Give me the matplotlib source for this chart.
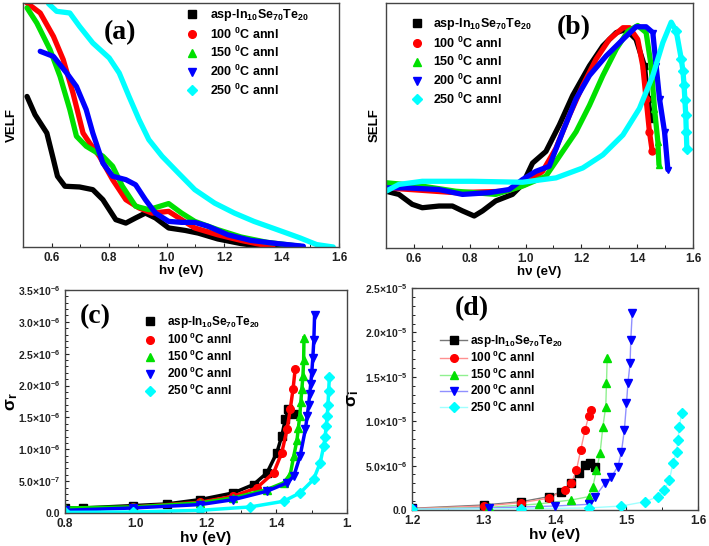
import matplotlib
matplotlib.use("Agg")
import matplotlib.pyplot as plt
from matplotlib.lines import Line2D
import numpy as np

plt.rcParams['font.family'] = ['Liberation Sans', 'DejaVu Sans']
plt.rcParams['font.weight'] = 'bold'
plt.rcParams['mathtext.fontset'] = 'custom'
plt.rcParams['mathtext.rm'] = 'Liberation Sans:bold'
plt.rcParams['mathtext.bf'] = 'Liberation Sans:bold'
plt.rcParams['mathtext.it'] = 'Liberation Sans:bold'

labels = ['asp-In$_{10}$Se$_{70}$Te$_{20}$', '100 $^{0}$C annl', '150 $^{0}$C annl',
          '200 $^{0}$C annl', '250 $^{0}$C annl']
colors = ['#000000', '#ff0000', '#00e000', '#0000ff', '#00ffff']
markers = ['s', 'o', '^', 'v', 'D']

# ---------- (a) VELF ----------
a_x0 = [0.514, 0.542, 0.583, 0.606, 0.62, 0.646, 0.697, 0.743, 0.778, 0.823, 0.858, 0.892, 0.926, 0.961, 1.007, 1.064, 1.11, 1.178, 1.259, 1.327, 1.40]
a_y0 = [0.617, 0.542, 0.467, 0.358, 0.29, 0.249, 0.246, 0.235, 0.194, 0.112, 0.098, 0.119, 0.139, 0.119, 0.078, 0.068, 0.057, 0.033, 0.014, 0.003, 0.0]
a_x1 = [0.514, 0.56, 0.606, 0.64, 0.674, 0.709, 0.732, 0.766, 0.812, 0.858, 0.904, 0.949, 1.007, 1.052, 1.098, 1.178, 1.259, 1.35, 1.37]
a_y1 = [1.0, 0.959, 0.863, 0.768, 0.631, 0.467, 0.426, 0.372, 0.276, 0.194, 0.16, 0.139, 0.146, 0.112, 0.078, 0.05, 0.027, 0.005, 0.0]
a_x2 = [0.514, 0.548, 0.594, 0.629, 0.663, 0.686, 0.72, 0.778, 0.812, 0.846, 0.892, 0.938, 1.007, 1.052, 1.098, 1.178, 1.259, 1.35, 1.465]
a_y2 = [0.98, 0.918, 0.809, 0.699, 0.563, 0.454, 0.413, 0.372, 0.331, 0.249, 0.167, 0.153, 0.178, 0.139, 0.105, 0.071, 0.041, 0.019, 0.003]
a_x3 = [0.56, 0.606, 0.652, 0.686, 0.72, 0.743, 0.778, 0.812, 0.858, 0.892, 0.926, 0.961, 1.007, 1.052, 1.098, 1.144, 1.213, 1.293, 1.385, 1.476]
a_y3 = [0.802, 0.781, 0.713, 0.658, 0.563, 0.467, 0.344, 0.29, 0.276, 0.255, 0.194, 0.139, 0.105, 0.101, 0.101, 0.085, 0.05, 0.027, 0.014, 0.003]
a_x4 = [0.589, 0.617, 0.663, 0.697, 0.743, 0.8, 0.835, 0.869, 0.904, 0.938, 0.984, 1.041, 1.098, 1.167, 1.236, 1.304, 1.385, 1.465, 1.522, 1.58]
a_y4 = [0.997, 0.966, 0.959, 0.904, 0.836, 0.775, 0.713, 0.617, 0.522, 0.44, 0.372, 0.303, 0.235, 0.18, 0.139, 0.105, 0.071, 0.037, 0.01, 0.0]

# ---------- (b) SELF ----------
b_x0 = [0.5, 0.546, 0.594, 0.63, 0.69, 0.738, 0.774, 0.816, 0.846, 0.893, 0.953, 0.989, 1.025, 1.073, 1.121, 1.169, 1.229, 1.277, 1.325, 1.36, 1.396, 1.426, 1.438, 1.45]
b_y0 = [0.224, 0.211, 0.17, 0.156, 0.163, 0.163, 0.143, 0.122, 0.143, 0.184, 0.211, 0.252, 0.34, 0.388, 0.497, 0.619, 0.741, 0.823, 0.878, 0.891, 0.85, 0.741, 0.605, 0.52]
b_x1 = [0.5, 0.75, 0.93, 1.0, 1.061, 1.109, 1.157, 1.205, 1.253, 1.3, 1.349, 1.373, 1.402, 1.42, 1.432, 1.444, 1.454]
b_y1 = [0.238, 0.218, 0.224, 0.252, 0.306, 0.401, 0.537, 0.66, 0.769, 0.85, 0.898, 0.898, 0.85, 0.741, 0.605, 0.469, 0.388]
b_x2 = [0.5, 0.63, 0.75, 0.893, 0.989, 1.073, 1.133, 1.181, 1.229, 1.277, 1.325, 1.367, 1.402, 1.432, 1.45, 1.462, 1.474, 1.478]
b_y2 = [0.259, 0.245, 0.224, 0.211, 0.245, 0.286, 0.388, 0.469, 0.578, 0.701, 0.81, 0.884, 0.907, 0.878, 0.741, 0.565, 0.429, 0.333]
b_x3 = [0.5, 0.57, 0.69, 0.774, 0.869, 0.941, 0.989, 1.037, 1.085, 1.133, 1.181, 1.229, 1.289, 1.349, 1.396, 1.432, 1.456, 1.468, 1.48, 1.498, 1.51]
b_y3 = [0.238, 0.238, 0.231, 0.211, 0.218, 0.231, 0.272, 0.306, 0.327, 0.469, 0.605, 0.701, 0.782, 0.85, 0.902, 0.902, 0.878, 0.741, 0.605, 0.469, 0.313]
b_x4 = [0.5, 0.546, 0.63, 0.81, 0.989, 1.109, 1.205, 1.277, 1.349, 1.408, 1.456, 1.492, 1.522, 1.54, 1.558, 1.564, 1.568, 1.571, 1.574, 1.576, 1.578]
b_y4 = [0.224, 0.252, 0.265, 0.265, 0.261, 0.279, 0.32, 0.374, 0.456, 0.565, 0.701, 0.837, 0.921, 0.884, 0.769, 0.72, 0.66, 0.6, 0.54, 0.47, 0.40]

# ---------- (c) sigma_r (units 1e-6) ----------
c_x0 = [0.8, 0.852, 0.994, 1.089, 1.183, 1.278, 1.335, 1.373, 1.401, 1.415, 1.425, 1.434, 1.45]
c_y0 = [0.079, 0.08, 0.116, 0.142, 0.21, 0.316, 0.447, 0.63, 0.947, 1.21, 1.47, 1.63, 1.55]
c_x1 = [0.8, 0.994, 1.183, 1.278, 1.344, 1.392, 1.415, 1.43, 1.439, 1.447, 1.453]
c_y1 = [0.042, 0.095, 0.168, 0.263, 0.395, 0.632, 0.947, 1.316, 1.63, 1.947, 2.26]
c_x2 = [0.8, 0.994, 1.183, 1.278, 1.373, 1.42, 1.439, 1.449, 1.458, 1.462, 1.466, 1.469, 1.472, 1.475, 1.477, 1.478]
c_y2 = [0.079, 0.095, 0.158, 0.237, 0.368, 0.474, 0.605, 0.895, 1.14, 1.33, 1.53, 1.74, 1.95, 2.15, 2.4, 2.75]
c_x3 = [0.8, 0.994, 1.183, 1.278, 1.373, 1.43, 1.449, 1.467, 1.482, 1.487, 1.491, 1.494, 1.497, 1.5, 1.503, 1.506, 1.508]
c_y3 = [0.042, 0.079, 0.132, 0.21, 0.342, 0.474, 0.579, 0.895, 1.316, 1.52, 1.69, 1.86, 2.02, 2.2, 2.43, 2.72, 3.1]
c_x4 = [0.8, 0.994, 1.183, 1.325, 1.42, 1.467, 1.505, 1.524, 1.534, 1.538, 1.541, 1.544, 1.546, 1.548, 1.55]
c_y4 = [0.01, 0.016, 0.042, 0.095, 0.184, 0.316, 0.526, 0.789, 1.05, 1.2, 1.368, 1.53, 1.7, 1.92, 2.14]

# ---------- (d) sigma_i (units 1e-5) ----------
d_x0 = [1.2, 1.3, 1.353, 1.391, 1.409, 1.423, 1.433, 1.442, 1.449, 1.456]
d_y0 = [0.019, 0.056, 0.094, 0.15, 0.207, 0.3, 0.414, 0.508, 0.534, 0.489]
d_x1 = [1.2, 1.3, 1.353, 1.391, 1.414, 1.423, 1.43, 1.436, 1.442, 1.447, 1.451]
d_y1 = [0.015, 0.045, 0.083, 0.132, 0.226, 0.3, 0.451, 0.677, 0.902, 1.053, 1.128]
d_x2 = [1.2, 1.307, 1.377, 1.423, 1.447, 1.453, 1.458, 1.463, 1.467, 1.471, 1.472, 1.473]
d_y2 = [0.011, 0.03, 0.068, 0.113, 0.15, 0.263, 0.451, 0.639, 0.94, 1.165, 1.429, 1.711]
d_x3 = [1.2, 1.307, 1.4, 1.447, 1.456, 1.47, 1.479, 1.488, 1.493, 1.497, 1.5, 1.502, 1.505, 1.506, 1.508]
d_y3 = [0.008, 0.023, 0.045, 0.064, 0.15, 0.3, 0.376, 0.489, 0.658, 0.902, 1.203, 1.429, 1.654, 1.917, 2.218]
d_x4 = [1.2, 1.353, 1.447, 1.493, 1.526, 1.544, 1.553, 1.56, 1.565, 1.57, 1.572, 1.574, 1.577]
d_y4 = [0.008, 0.015, 0.023, 0.045, 0.094, 0.15, 0.226, 0.338, 0.526, 0.658, 0.79, 0.94, 1.09]

c_yticks = [0.0, 0.5, 1.0, 1.5, 2.0, 2.5, 3.0, 3.5]
c_yticklabels = ['0.0', '5.0×10$^{-7}$', '1.0×10$^{-6}$', '1.5×10$^{-6}$', '2.0×10$^{-6}$',
                 '2.5×10$^{-6}$', '3.0×10$^{-6}$', '3.5×10$^{-6}$']
d_yticks = [0.0, 0.5, 1.0, 1.5, 2.0, 2.5]
d_yticklabels = ['0.0', '5.0×10$^{-6}$', '1.0×10$^{-5}$', '1.5×10$^{-5}$', '2.0×10$^{-5}$', '2.5×10$^{-5}$']

fig = plt.figure(figsize=(7.09, 5.46), dpi=100)
W, H = 709, 546

def add_ax(l, t, r, b):
    return fig.add_axes([l / W, 1 - b / H, (r - l) / W, (b - t) / H])

axA = add_ax(23, 3, 339, 247)
axB = add_ax(386, 3, 693, 248)
axC = add_ax(65, 290, 347, 513)
axD = add_ax(412, 288, 698, 510)

seriesA = [(a_x0, a_y0), (a_x1, a_y1), (a_x2, a_y2), (a_x3, a_y3), (a_x4, a_y4)]
seriesB = [(b_x0, b_y0), (b_x1, b_y1), (b_x2, b_y2), (b_x3, b_y3), (b_x4, b_y4)]
seriesC = [(c_x0, c_y0), (c_x1, c_y1), (c_x2, c_y2), (c_x3, c_y3), (c_x4, c_y4)]
seriesD = [(d_x0, d_y0), (d_x1, d_y1), (d_x2, d_y2), (d_x3, d_y3), (d_x4, d_y4)]

tick_fs = 8.5
for ax in (axA, axB, axC, axD):
    for s in ax.spines.values():
        s.set_color('#444444')
        s.set_linewidth(1.0)
    ax.tick_params(labelsize=tick_fs, direction='in', length=3, width=0.8, colors='#222222')
    ax.tick_params(which='minor', direction='in', length=2, width=0.6)

for (x, y), c in zip(seriesA, colors):
    axA.plot(x, y, color=c, lw=3.8, solid_capstyle='round', solid_joinstyle='round')
tail_n = [3, 3, 4, 5, 8]
for (x, y), c, m, n in zip(seriesB, colors, markers, tail_n):
    axB.plot(x, y, color=c, lw=3.8, solid_capstyle='round', solid_joinstyle='round',
             marker=m, ms=5, mec=c, markevery=slice(len(x) - n, None))
for ax in (axA, axB):
    ax.set_yticks([])

axA.set_xlim(0.514, 1.6)
axA.set_ylim(0, 1.0)
axB.set_xlim(0.5, 1.6)
axB.set_ylim(-0.01, 1.0)
for ax in (axA, axB):
    ax.set_xticks([0.6, 0.8, 1.0, 1.2, 1.4, 1.6])
    ax.set_xticks([0.5, 0.7, 0.9, 1.1, 1.3, 1.5], minor=True)
    ax.set_xticklabels(['0.6', '0.8', '1.0', '1.2', '1.4', '1.6'], fontweight='bold')

for (x, y), c, m in zip(seriesC, colors, markers):
    axC.plot(x, y, color=c, lw=2.5, marker=m, ms=5.5, mec=c, ls='-', solid_joinstyle='round')
axC.set_xlim(0.8, 1.6)
axC.set_ylim(0, 3.5)
axC.set_xticks([0.8, 1.0, 1.2, 1.4, 1.6])
axC.set_xticklabels(['0.8', '1.0', '1.2', '1.4', '1.'], fontweight='bold')
axC.set_xticks([0.9, 1.1, 1.3, 1.5], minor=True)
axC.set_yticks(c_yticks)
axC.set_yticklabels(c_yticklabels, fontweight='bold', fontsize=7.5)
axC.set_yticks(np.arange(0.1, 3.5, 0.1), minor=True)

light = ['#777777', '#ff9090', '#90f090', '#9090ff', '#a0ffff']
for (x, y), c, m, lc in zip(seriesD, colors, markers, light):
    axD.plot(x, y, color=lc, lw=1.0, zorder=2)
    axD.plot(x, y, color=c, ls='none', marker=m, ms=5.5, mec=c, zorder=3)
axD.set_xlim(1.2, 1.6)
axD.set_ylim(0, 2.5)
axD.set_xticks([1.2, 1.3, 1.4, 1.5, 1.6])
axD.set_xticklabels(['1.2', '1.3', '1.4', '1.5', '1.6'], fontweight='bold')
axD.set_xticks([1.25, 1.35, 1.45, 1.55], minor=True)
axD.set_yticks(d_yticks)
axD.set_yticklabels(d_yticklabels, fontweight='bold', fontsize=7.5)
axD.set_yticks(np.arange(0.1, 2.5, 0.1), minor=True)

lab_fs = 9.5
for ax in (axA, axB, axC, axD):
    ax.set_xlabel('hν (eV)', fontsize=lab_fs, fontweight='bold', labelpad=1)
axC.xaxis.label.set_fontsize(11)
axD.xaxis.label.set_fontsize(11)
axA.set_ylabel('VELF', fontsize=lab_fs, fontweight='bold', labelpad=4)
axB.set_ylabel('SELF', fontsize=lab_fs, fontweight='bold', labelpad=4)
axC.set_ylabel('σ$_{r}$', fontsize=12.5, fontweight='bold')
axD.set_ylabel('σ$_{i}$', fontsize=12.5, fontweight='bold')
axC.yaxis.set_label_coords(-0.16, 0.5)
axD.yaxis.set_label_coords(-0.18, 0.5)

panel_font = dict(family='Liberation Serif', fontweight='bold', fontsize=20, ha='center', va='center')
axA.text(0.307, 0.88, '(a)', transform=axA.transAxes, **panel_font)
axB.text(0.61, 0.90, '(b)', transform=axB.transAxes, **panel_font)
axC.text(0.106, 0.88, '(c)', transform=axC.transAxes, **panel_font)
axD.text(0.21, 0.905, '(d)', transform=axD.transAxes, **panel_font)

def mk_handles(with_line):
    hs = []
    for c, m, lc in zip(colors, markers, light):
        if with_line:
            hs.append(Line2D([], [], color=lc, lw=1.0, marker=m, ms=5.5, mfc=c, mec=c))
        else:
            hs.append(Line2D([], [], ls='none', marker=m, ms=5.5, color=c))
    return hs

def leg(ax, handles, anchor, fs, hl, pad, ls):
    ax.legend(handles, labels, loc='upper left', bbox_to_anchor=anchor, frameon=False,
              prop={'weight': 'bold', 'size': fs}, handlelength=hl, handletextpad=pad,
              borderaxespad=0, borderpad=0, labelspacing=ls)

leg(axA, mk_handles(False), (0.52, 0.984), 9, 0.8, 1.0, 0.28)
leg(axB, mk_handles(False), (0.085, 0.947), 9, 0.8, 0.9, 0.28)
leg(axC, mk_handles(False), (0.285, 0.892), 8.5, 0.8, 1.0, 0.15)
leg(axD, mk_handles(True), (0.098, 0.797), 8.5, 2.3, 0.25, 0.1)

fig.savefig('out.png', dpi=100)
